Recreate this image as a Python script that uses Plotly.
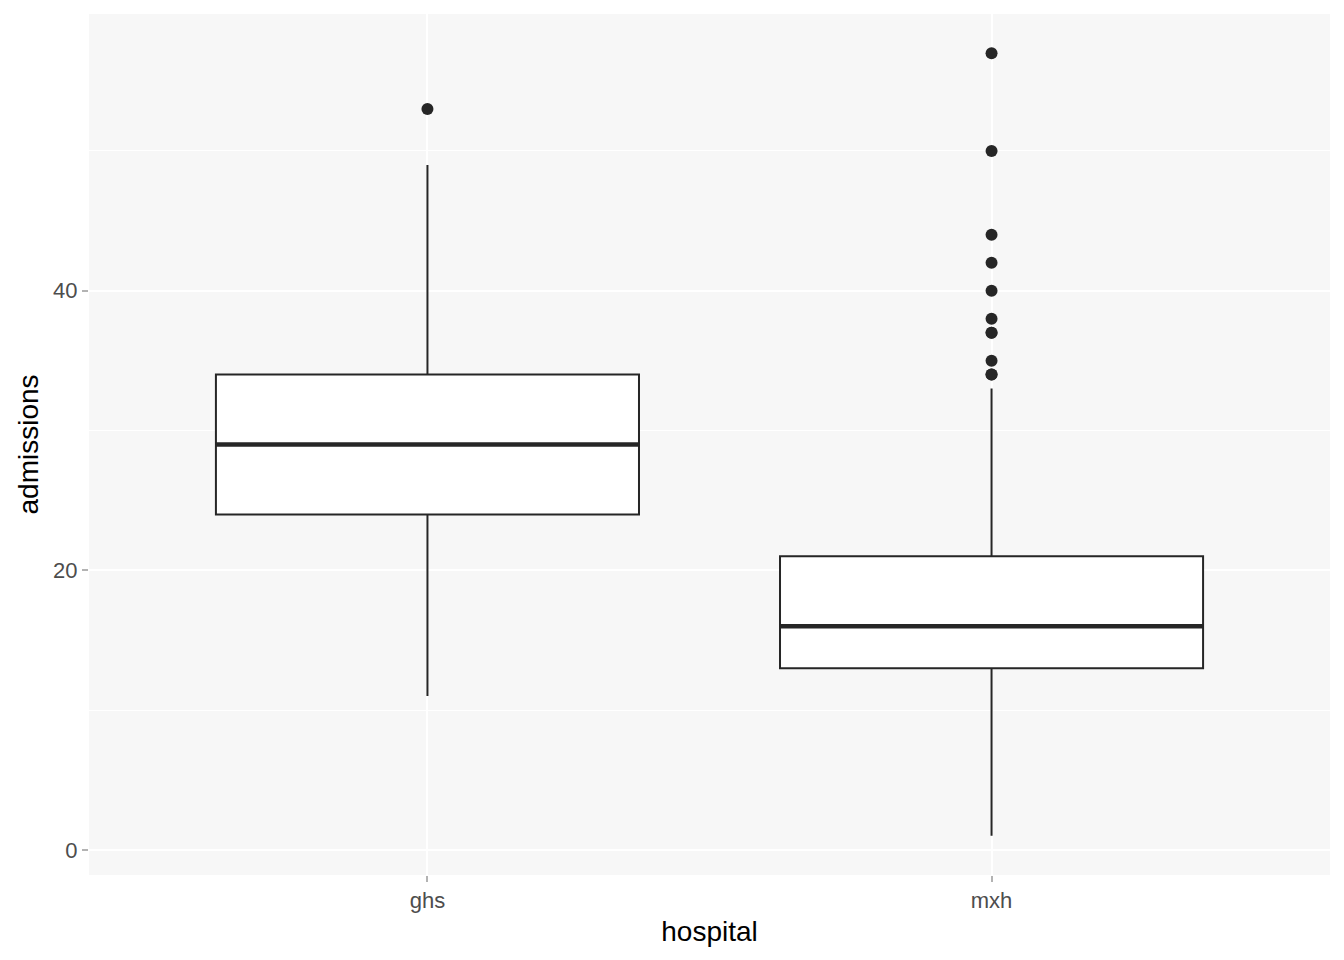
import plotly.graph_objects as go

hospitals = ["ghs", "mxh"]
q1 = [24, 13]
median = [29, 16]
q3 = [34, 21]
lower_whisker = [11, 1]
upper_whisker = [49, 33]
outliers_ghs = [53]
outliers_mxh = [57, 50, 44, 42, 40, 38, 37, 37, 35, 34, 34]
outliers = [outliers_ghs, outliers_mxh]

box_width = 0.75
line_col = "#262626"
xpos = [1, 2]

fig = go.Figure()
for i, h in enumerate(hospitals):
    fig.add_trace(go.Box(
        x=[xpos[i]], q1=[q1[i]], median=[median[i]], q3=[q3[i]],
        lowerfence=[lower_whisker[i]], upperfence=[upper_whisker[i]],
        width=box_width, whiskerwidth=0, fillcolor="white",
        line=dict(color=line_col, width=2), boxpoints=False,
        name=h, showlegend=False, hoverinfo="skip",
    ))
    fig.add_trace(go.Scatter(
        x=[xpos[i] - box_width / 2, xpos[i] + box_width / 2],
        y=[median[i], median[i]], mode="lines",
        line=dict(color=line_col, width=4.5), showlegend=False, hoverinfo="skip",
    ))
    fig.add_trace(go.Scatter(
        x=[xpos[i]] * len(outliers[i]), y=outliers[i], mode="markers",
        marker=dict(color=line_col, size=12), showlegend=False,
    ))

fig.update_layout(
    width=1328, height=944,
    margin=dict(l=81, r=6, t=6, b=77),
    paper_bgcolor="white", plot_bgcolor="#F7F7F7",
    font=dict(family="Liberation Sans, Arial, sans-serif", color="#4D4D4D", size=22),
    xaxis=dict(
        range=[0.4, 2.6], tickvals=xpos, ticktext=hospitals,
        showgrid=True, gridcolor="white", gridwidth=2, zeroline=False,
        ticks="outside", ticklen=6, tickcolor="#B3B3B3", tickwidth=2,
        title=dict(text="hospital", font=dict(size=28, color="black"), standoff=8),
        tickfont=dict(size=22, color="#4D4D4D"),
    ),
    yaxis=dict(
        range=[-1.8, 59.8], tickvals=[0, 20, 40],
        showgrid=True, gridcolor="white", gridwidth=2, zeroline=False,
        minor=dict(tickvals=[10, 30, 50], showgrid=True, gridcolor="white", gridwidth=1),
        ticks="outside", ticklen=6, tickcolor="#B3B3B3", tickwidth=2,
        title=dict(text="admissions", font=dict(size=28, color="black"), standoff=6),
        tickfont=dict(size=22, color="#4D4D4D"),
    ),
)

fig.write_html("out.html")
